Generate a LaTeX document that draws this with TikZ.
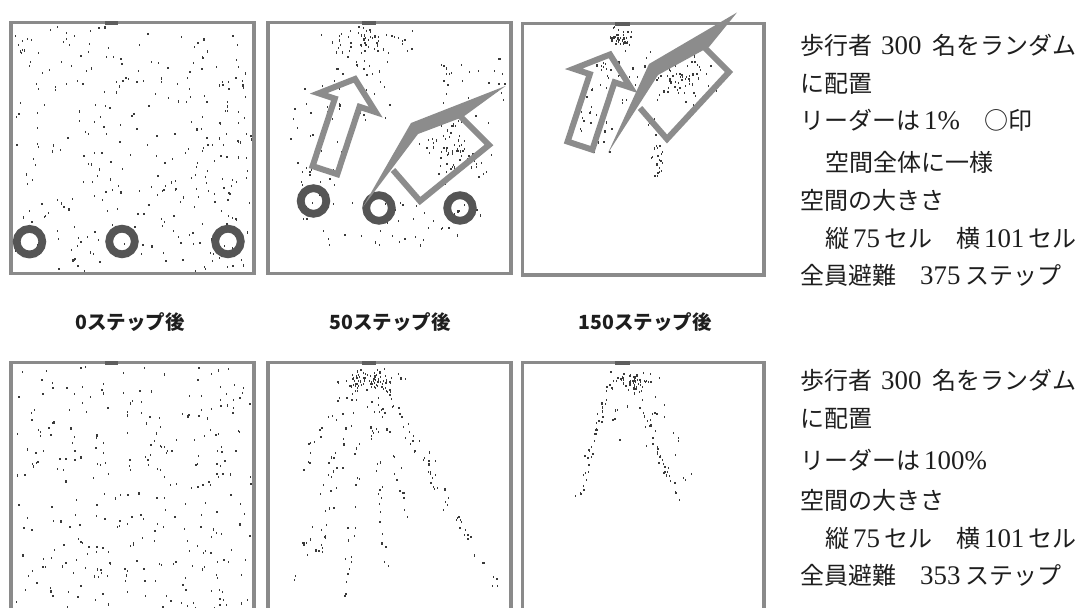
\documentclass[tikz,border=0pt]{standalone}
\usepackage{fontspec}
\setmainfont{Liberation Serif}[Scale=1.12]
\newfontfamily\jp{Noto Sans CJK JP}
\definecolor{framec}{HTML}{8A8A8A}
\definecolor{exitcol}{HTML}{5E5E5E}
\definecolor{ringcol}{HTML}{555555}
\definecolor{arrowcol}{HTML}{8C8C8C}
\definecolor{dotc}{HTML}{3A3A3A}
\definecolor{txt}{HTML}{1E1E1E}
% dot generators
\newcommand\uniDots[5]{% N x0 y0 w h
  \foreach \k in {1,...,#1}{%
    \pgfmathsetmacro\dX{#2+#4*rnd}%
    \pgfmathsetmacro\dY{#3+#5*rnd}%
    \fill[dotc] (\dX,\dY) rectangle ++(1.3,2.1);}}
\newcommand\blobDots[5]{% N cx cy sx sy
  \foreach \k in {1,...,#1}{%
    \pgfmathsetmacro\dX{#2+#4*(rand+rand+rand)/3}%
    \pgfmathsetmacro\dY{#3+#5*(rand+rand+rand)/3}%
    \fill[dotc] (\dX,\dY) rectangle ++(1.3,2.1);}}
\newcommand\strmDots[6]{% N x0 y0 x1 y1 jitter
  \foreach \k in {1,...,#1}{%
    \pgfmathsetmacro\dT{rnd}%
    \pgfmathsetmacro\dX{#2+(#4-#2)*\dT+#6*rand}%
    \pgfmathsetmacro\dY{#3+(#5-#3)*\dT+#6*rand}%
    \fill[dotc] (\dX,\dY) rectangle ++(1.3,2.1);}}
\begin{document}
\begin{tikzpicture}[x=1pt,y=-1pt,
  frame/.style={draw=framec,line width=3.5pt},
  exitmark/.style={fill=exitcol},
  ring/.style={draw=ringcol,line width=7.8pt},
  blk/.style={draw=arrowcol,line width=6pt,line join=miter},
  spk/.style={fill=arrowcol},
  lab/.style={text=txt,font=\jp\bfseries\fontsize{19.5}{22}\selectfont},
  info/.style={text=txt,anchor=base west,inner sep=0pt,font=\fontsize{24}{28}\selectfont}]
\useasboundingbox (0,0) rectangle (1088,608);
\fill[white] (0,0) rectangle (1088,608);
\pgfmathsetseed{4711}
% ---------- dots, top row ----------
\uniDots{320}{14}{26}{237}{244}
% panel 2 top
\blobDots{60}{365}{42}{55}{22}
\uniDots{35}{288}{80}{55}{120}
\uniDots{30}{330}{60}{60}{60}
\blobDots{80}{455}{150}{50}{45}
\uniDots{25}{440}{55}{65}{50}
\uniDots{45}{300}{200}{180}{45}
% panel 3 top
\blobDots{35}{622}{38}{22}{14}
\uniDots{30}{578}{60}{35}{92}
\blobDots{70}{680}{80}{40}{40}
\uniDots{30}{600}{50}{50}{60}
\strmDots{25}{650}{120}{660}{178}{6}
% ---------- dots, bottom row ----------
\uniDots{310}{14}{366}{237}{245}
% panel 2 bottom
\blobDots{55}{372}{380}{45}{16}
\strmDots{30}{360}{368}{292}{590}{4}
\strmDots{24}{362}{368}{318}{555}{4}
\strmDots{24}{366}{368}{345}{600}{4}
\strmDots{24}{368}{368}{388}{585}{4}
\strmDots{24}{372}{368}{412}{530}{4}
\strmDots{24}{374}{368}{447}{508}{4}
\strmDots{22}{376}{368}{472}{545}{4}
\strmDots{20}{378}{368}{500}{590}{5}
\strmDots{18}{360}{368}{300}{470}{5}
% panel 3 bottom
\blobDots{45}{630}{380}{32}{14}
\strmDots{40}{612}{372}{577}{497}{4}
\strmDots{32}{632}{375}{665}{472}{4}
\strmDots{10}{660}{460}{682}{508}{4}
\strmDots{14}{645}{372}{690}{480}{6}
\uniDots{8}{600}{400}{60}{60}
% ---------- frames ----------
\draw[frame] (11,22.5) rectangle (254,273.5);
\draw[frame] (268,22.5) rectangle (511,273.5);
\draw[frame] (522.5,23.5) rectangle (764,275);
\draw[frame] (11,615) -- (11,362.5) -- (254,362.5) -- (254,615);
\draw[frame] (268,615) -- (268,362.5) -- (511,362.5) -- (511,615);
\draw[frame] (522.5,615) -- (522.5,362.5) -- (764,362.5) -- (764,615);
% exits
\fill[exitmark] (105,21) rectangle (118,25);
\fill[exitmark] (362,21) rectangle (376,25);
\fill[exitmark] (615,22) rectangle (630,26);
\fill[exitmark] (105,361) rectangle (118,365);
\fill[exitmark] (362,361) rectangle (376,365);
\fill[exitmark] (615,361) rectangle (630,365);
% ---------- leaders (rings) ----------
\draw[ring] (29.5,241.7) circle[radius=12.8pt];
\draw[ring] (122,241.5) circle[radius=12.8pt];
\draw[ring] (228,241.5) circle[radius=12.8pt];
\draw[ring] (313.5,201) circle[radius=12.8pt];
\draw[ring] (379,208) circle[radius=12.8pt];
\draw[ring] (460,208) circle[radius=12.8pt];
% ---------- arrows panel 2 ----------
\draw[blk] (312.6,166.1) -- (337.3,174.2) -- (359.5,106.8) -- (375.7,112.1)
  -- (355,79) -- (318.7,93.3) -- (334.8,98.6) -- cycle;
\fill[spk] (362.5,207.5) -- (411,123) -- (505.5,86) -- (463,117) -- (418,134) -- cycle;
\draw[blk] (393,170) -- (420,201) -- (489,145) -- (460,116);
% ---------- arrows panel 3 ----------
\begin{scope}[shift={(255,-24.5)}]
\draw[blk] (312.6,166.1) -- (337.3,174.2) -- (359.5,106.8) -- (375.7,112.1)
  -- (355,79) -- (318.7,93.3) -- (334.8,98.6) -- cycle;
\end{scope}
\fill[spk] (608,153) -- (649,64) -- (737,12.5) -- (709,47) -- (658,75) -- cycle;
\draw[blk] (640,108) -- (667,139) -- (729,72) -- (705,48);
% ---------- step labels ----------
\node[lab] (l0) at (130,322) {0ステップ後};
\node[lab] (l50) at (390,322) {50ステップ後};
\node[lab] (l150) at (645,322) {150ステップ後};
% ---------- info text, top ----------
\node[info] (a1) at (800,54) {{\jp 歩行者}\hspace{9pt}300\hspace{11pt}{\jp 名をランダム}};
\node[info] (a2) at (800,92) {\jp に配置};
\node[info] (a3) at (800,129) {{\jp リーダーは}\hspace{4pt}1\%\hspace{24pt}{\jp ○印}};
\node[info] (a4) at (825,171) {\jp 空間全体に一様};
\node[info] (a5) at (800,209) {\jp 空間の大きさ};
\node[info] (a6) at (825,247) {{\jp 縦}\hspace{4pt}75\hspace{4pt}{\jp セル}\hspace{24pt}{\jp 横}\hspace{4pt}101\hspace{4pt}{\jp セル}};
\node[info] (a7) at (800,284) {{\jp 全員避難}\hspace{24pt}375\hspace{5pt}{\jp ステップ}};
% ---------- info text, bottom ----------
\node[info] (b1) at (800,389) {{\jp 歩行者}\hspace{9pt}300\hspace{11pt}{\jp 名をランダム}};
\node[info] (b2) at (800,427) {\jp に配置};
\node[info] (b3) at (800,469) {{\jp リーダーは}\hspace{4pt}100\%};
\node[info] (b4) at (800,509) {\jp 空間の大きさ};
\node[info] (b5) at (825,547) {{\jp 縦}\hspace{4pt}75\hspace{4pt}{\jp セル}\hspace{24pt}{\jp 横}\hspace{4pt}101\hspace{4pt}{\jp セル}};
\node[info] (b6) at (800,584) {{\jp 全員避難}\hspace{24pt}353\hspace{5pt}{\jp ステップ}};
\end{tikzpicture}
\end{document}
